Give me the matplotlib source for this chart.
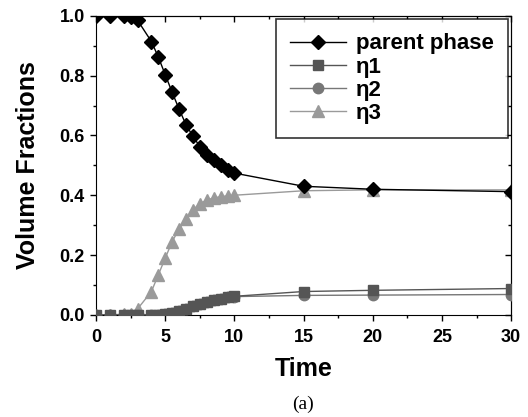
import matplotlib
matplotlib.use("Agg")
import matplotlib.pyplot as plt
from matplotlib.ticker import MultipleLocator, FormatStrFormatter

plt.rcParams['font.family'] = ['Liberation Sans', 'DejaVu Sans']

time = [0, 1, 2, 2.5, 3, 4, 4.5, 5, 5.5, 6, 6.5, 7, 7.5, 8, 8.5, 9, 9.5, 10, 15, 20, 30]
parent = [1.0, 1.0, 0.998, 0.995, 0.985, 0.914, 0.862, 0.803, 0.744, 0.688, 0.636, 0.597,
          0.563, 0.535, 0.518, 0.502, 0.485, 0.474, 0.43, 0.42, 0.412]
eta1 = [0.0, 0.0, 0.0, 0.0, 0.0, 0.0, 0.001, 0.002, 0.006, 0.012, 0.02, 0.028, 0.036,
        0.043, 0.049, 0.054, 0.058, 0.062, 0.078, 0.082, 0.088]
eta2 = [0.0, 0.0, 0.0, 0.0, 0.0, 0.0, 0.001, 0.002, 0.006, 0.012, 0.02, 0.028, 0.036,
        0.043, 0.049, 0.054, 0.058, 0.061, 0.065, 0.066, 0.068]
eta3 = [0.0, 0.0, 0.002, 0.004, 0.02, 0.078, 0.134, 0.19, 0.245, 0.287, 0.32, 0.351,
        0.372, 0.384, 0.391, 0.395, 0.398, 0.40, 0.415, 0.418, 0.418]
labels = ['parent phase', 'η1', 'η2', 'η3']
xticks = [0, 5, 10, 15, 20, 25, 30]
yticks = [0.0, 0.2, 0.4, 0.6, 0.8, 1.0]

fig = plt.figure(figsize=(5.28, 4.17), dpi=100)
ax = fig.add_axes([0.182, 0.245, 0.786, 0.717])

ax.plot(time, parent, color='black', marker='D', markersize=7.5, lw=1, label=labels[0], zorder=5)
ax.plot(time, eta1, color='#555555', marker='s', markersize=7.5, lw=1, label=labels[1], zorder=4)
ax.plot(time, eta2, color='#777777', marker='o', markersize=7.5, lw=1, label=labels[2], zorder=3)
ax.plot(time, eta3, color='#9a9a9a', marker='^', markersize=8.5, lw=1, label=labels[3], zorder=2)

ax.set_xlim(0, 30)
ax.set_ylim(0, 1.0)
ax.set_xticks(xticks)
ax.set_yticks(yticks)
ax.xaxis.set_minor_locator(MultipleLocator(2.5))
ax.yaxis.set_minor_locator(MultipleLocator(0.1))
ax.yaxis.set_major_formatter(FormatStrFormatter('%.1f'))

# outward ticks on bottom/left
ax.tick_params(which='both', direction='out', bottom=True, left=True, top=False, right=False)
ax.tick_params(which='major', length=4, width=1, labelsize=13)
ax.tick_params(axis='x', which='major', pad=6)
ax.tick_params(axis='y', which='major', pad=4)
ax.tick_params(which='minor', length=2.5, width=1)
for lab in ax.get_xticklabels() + ax.get_yticklabels():
    lab.set_fontweight('bold')

# inward ticks on top/right
axt = ax.secondary_xaxis('top')
axt.set_xticks(xticks)
axt.xaxis.set_minor_locator(MultipleLocator(2.5))
axt.tick_params(which='both', direction='in', labeltop=False)
axt.tick_params(which='major', length=4, width=1)
axt.tick_params(which='minor', length=2.5, width=1)
axr = ax.secondary_yaxis('right')
axr.set_yticks(yticks)
axr.yaxis.set_minor_locator(MultipleLocator(0.1))
axr.tick_params(which='both', direction='in', labelright=False)
axr.tick_params(which='major', length=4, width=1)
axr.tick_params(which='minor', length=2.5, width=1)

ax.set_xlabel('Time', fontsize=18, fontweight='bold', labelpad=8)
ax.set_ylabel('Volume Fractions', fontsize=18, fontweight='bold', labelpad=14)

leg = ax.legend(loc='upper right', bbox_to_anchor=(0.993, 0.99), borderaxespad=0,
                frameon=True, fancybox=False, edgecolor='black',
                prop={'weight': 'bold', 'size': 16}, handlelength=2.5, handletextpad=0.45,
                labelspacing=0.1, borderpad=0.65)
leg.get_frame().set_linewidth(1.2)

fig.text(0.573, 0.02, '(a)', fontsize=14, family='Liberation Serif', ha='center')

fig.savefig('out.png', dpi=100)
